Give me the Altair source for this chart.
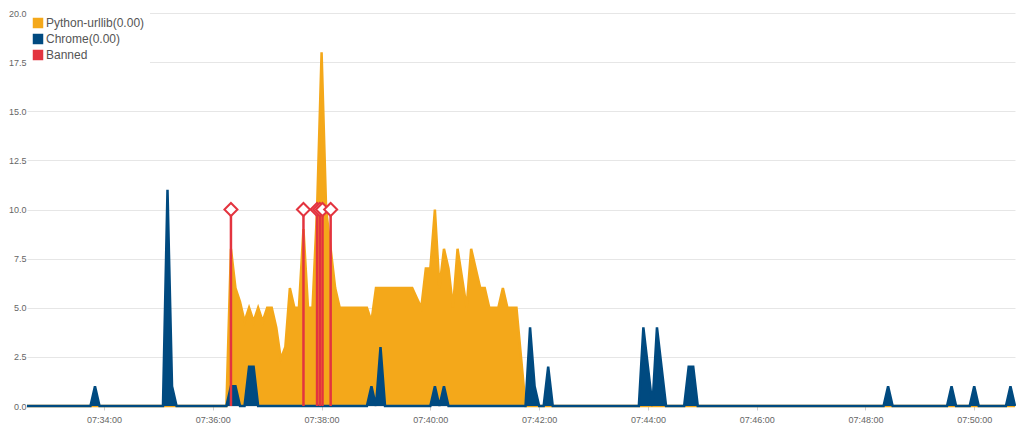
import altair as alt
import pandas as pd

# ---------------- data (seconds relative to 07:34:00, 5-second samples) ----------------
BASE = pd.Timestamp("2024-01-01 07:34:00")
START_S, END_S, STEP = -85, 1005, 5

PY_LABEL = "Python-urllib(0.00)"
CH_LABEL = "Chrome(0.00)"
BAN_LABEL = "Banned"

# Chrome: non-zero samples (offset seconds, value)
chrome_s = [-10, 70, 75, 140, 145, 160, 165, 295, 305, 365, 375, 470, 475, 490,
            595, 600, 610, 615, 645, 650, 865, 935, 960, 1000]
chrome_v = [1, 11, 1, 1, 1, 2, 2, 1, 3, 1, 1, 4, 1, 2,
            4, 2, 4, 2, 2, 2, 1, 1, 1, 1]

# Python-urllib: samples from 07:36:15 onward (every 5 s)
python_start_s = 135
python_v = [0, 8, 6, 5.3, 4.3, 5, 4.3, 5, 4.3, 5, 5, 4, 2.4, 3, 6, 5, 5, 9, 5, 5,
            10, 18, 10, 8, 6, 5, 5, 5, 5, 5, 5, 5, 4.3, 6, 6, 6, 6, 6, 6, 6,
            6, 6, 5.5, 5, 7, 7, 10, 6, 8, 7, 5, 8, 6.5, 5, 8, 7, 6, 6, 5, 5,
            5, 6, 5, 5, 5, 2.5, 0]

# Banned events (offset seconds) drawn up to level 10
banned_s = [140, 220, 235, 238, 241, 250]
banned_level = 10

COLORS = ["#F4A81A", "#004A80", "#E3343F"]

# ---------------- tables ----------------
def ts(s):
    return (BASE + pd.Timedelta(seconds=s)).strftime("%Y-%m-%dT%H:%M:%S")

chrome_map = dict(zip(chrome_s, chrome_v))
python_map = {python_start_s + i * STEP: v for i, v in enumerate(python_v)}

rows = []
for s in range(START_S, END_S + 1, STEP):
    rows.append({"t": ts(s), "series": PY_LABEL, "value": python_map.get(s, 0)})
    rows.append({"t": ts(s), "series": CH_LABEL, "value": chrome_map.get(s, 0)})
df = pd.DataFrame(rows)

ban_df = pd.DataFrame({"t": [ts(s) for s in banned_s],
                       "lo": [0] * len(banned_s),
                       "hi": [banned_level] * len(banned_s)})

def dt(h, m, s):
    return alt.DateTime(year=2024, month=1, date=1, hours=h, minutes=m, seconds=s)

x_domain = [dt(7, 32, 35), dt(7, 50, 45)]
x_ticks = [dt(7, mm, 0) for mm in range(34, 51, 2)]

x_enc = alt.X("t:T", scale=alt.Scale(domain=x_domain, nice=False),
              axis=alt.Axis(values=x_ticks, format="%H:%M:%S", title=None, grid=False,
                            domain=False, tickSize=4, tickColor="#cccccc",
                            labelFontSize=9, labelColor="#666666",
                            labelFont="Liberation Sans", labelPadding=5))
y_axis = alt.Axis(values=[i * 2.5 for i in range(9)], format=".1f", title=None,
                  domain=False, ticks=False, labelPadding=1, labelFontSize=9,
                  labelColor="#666666", labelFont="Liberation Sans",
                  gridColor="#e6e6e6", gridWidth=1)
y_scale = alt.Scale(domain=[0, 20], nice=False)

color_enc = alt.Color(
    "series:N",
    scale=alt.Scale(domain=[PY_LABEL, CH_LABEL, BAN_LABEL], range=COLORS),
    legend=alt.Legend(title=None, orient="none", legendX=0, legendY=-1,
                      direction="vertical", symbolType="square", symbolSize=110,
                      symbolStrokeWidth=0, symbolOpacity=1,
                      labelFontSize=12, labelFont="Liberation Sans",
                      labelColor="#555555", fillColor="white", padding=5,
                      rowPadding=4, labelOffset=2),
)

base = alt.Chart(df)

py_layer = base.transform_filter(alt.datum.series == PY_LABEL).mark_area(
    opacity=1, line={"strokeWidth": 2.5}
).encode(x=x_enc, y=alt.Y("value:Q", scale=y_scale, axis=y_axis), color=color_enc)

ch_layer = base.transform_filter(alt.datum.series == CH_LABEL).mark_area(
    opacity=1, line={"strokeWidth": 2.5}
).encode(x=x_enc, y=alt.Y("value:Q", scale=y_scale, axis=y_axis), color=color_enc)

rules = alt.Chart(ban_df).mark_rule(color=COLORS[2], strokeWidth=2.5).encode(
    x=x_enc, y=alt.Y("lo:Q", scale=y_scale, axis=y_axis), y2="hi:Q")

diamonds = alt.Chart(ban_df).mark_point(
    shape="diamond", filled=True, fill="white", stroke=COLORS[2],
    strokeWidth=2, size=169, opacity=1
).encode(x=x_enc, y=alt.Y("hi:Q", scale=y_scale, axis=y_axis))

chart = alt.layer(py_layer, ch_layer, rules, diamonds).properties(
    width=988, height=393,
    autosize=alt.AutoSizeParams(type="none"),
    padding={"left": 19, "top": 5, "right": 1, "bottom": 20},
    background="white",
).configure_view(stroke=None)

chart.save("out.html", embed_options={"renderer": "svg", "actions": False})
